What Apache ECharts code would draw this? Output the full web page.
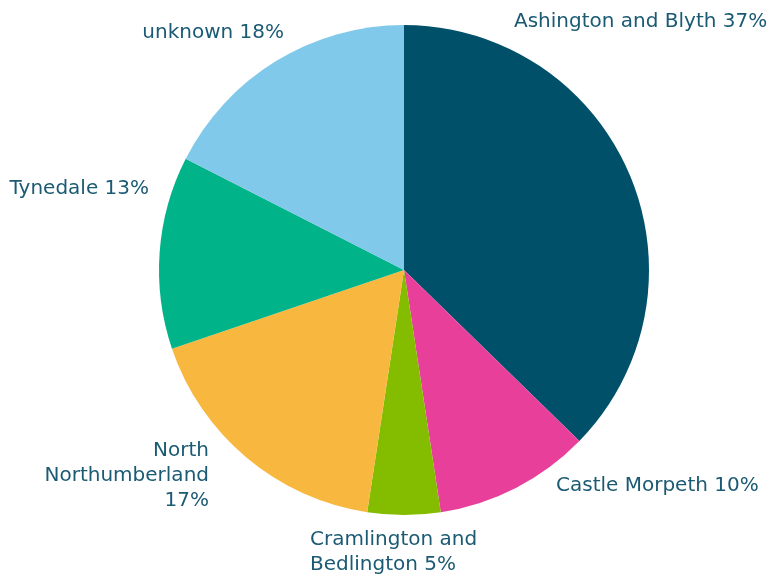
<!DOCTYPE html>
<html><head><meta charset="utf-8">
<script src="https://cdn.jsdelivr.net/npm/echarts@6/dist/echarts.min.js"></script>
<style>html,body{margin:0;padding:0;background:#fff}#c{width:774px;height:576px}</style>
</head><body><div id="c"></div>
<script>
const categories = ["Ashington and Blyth", "Castle Morpeth", "Cramlington and Bedlington", "North Northumberland", "Tynedale", "unknown"];
const values = [37.3, 10.3, 4.8, 17.4, 12.7, 17.5];
const colors = ["#00506a", "#e8409a", "#84bd00", "#f8b83f", "#00b388", "#80c9ea"];

// words per label line (null = single line)
const labelWordsPerLine = [null, null, [2, 2], [1, 1, 1], null, null];

// label anchor placement (label layout only)
const labelPlace = [
  { x: 514, y: 22, align: 'left' },
  { x: 556, y: 486, align: 'left' },
  { x: 310, y: 552, align: 'left' },
  { x: 209, y: 476, align: 'right' },
  { x: 149, y: 189, align: 'right' },
  { x: 284, y: 33, align: 'right' }
];

function labelText(p) {
  const words = (p.name + ' ' + Math.round(p.percent) + '%').split(' ');
  const spec = labelWordsPerLine[p.dataIndex];
  if (!spec) return words.join(' ');
  const lines = [];
  let k = 0;
  spec.forEach(n => { lines.push(words.slice(k, k + n).join(' ')); k += n; });
  return lines.join('\n');
}

const chart = echarts.init(document.getElementById('c'));
chart.setOption({
  animation: false,
  series: [{
    type: 'pie',
    center: [404, 270],
    radius: 245,
    startAngle: 90,
    clockwise: true,
    data: categories.map((n, i) => ({
      name: n, value: values[i], itemStyle: { color: colors[i] },
      label: { align: labelPlace[i].align }
    })),
    label: {
      show: true,
      position: 'outside',
      color: '#1b5a73',
      fontFamily: 'DejaVu Sans',
      fontSize: 20,
      lineHeight: 25,
      overflow: 'none',
      formatter: labelText
    },
    labelLine: { show: false },
    labelLayout: p => {
      const L = labelPlace[p.dataIndex];
      return { x: L.x, y: L.y, align: L.align, verticalAlign: 'middle', hideOverlap: false };
    }
  }]
});
</script></body></html>
